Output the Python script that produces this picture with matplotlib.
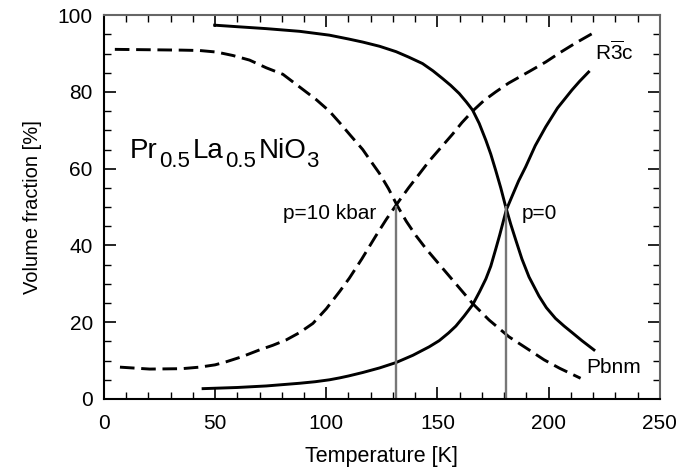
import matplotlib
matplotlib.use("Agg")
import matplotlib.pyplot as plt
from matplotlib.ticker import MultipleLocator

plt.rcParams['font.family'] = ['Liberation Sans', 'DejaVu Sans']
plt.rcParams['mathtext.fontset'] = 'custom'
plt.rcParams['mathtext.rm'] = 'Liberation Sans'
plt.rcParams['mathtext.it'] = 'Liberation Sans:italic'

# p = 0, Pbnm (solid, decreasing)
t_pbnm_0 = [49.8, 60, 73, 88, 101.4, 110, 116.4, 124, 131.4, 137, 143.3, 148, 152.3, 156,
            159.8, 163, 165.8, 168.8, 171.8, 174, 176.2, 178.5, 180.7, 183, 185.2, 188,
            191.2, 195.7, 199, 203.1, 207, 210.6, 215, 220.4]
v_pbnm_0 = [97.4, 97.0, 96.5, 95.8, 94.8, 93.8, 93.0, 91.9, 90.5, 89.1, 87.4, 85.5, 83.5, 81.7,
            79.6, 77.4, 75.3, 71.8, 67.4, 63.8, 59.6, 55.0, 50.1, 45.5, 41.5, 36.5,
            31.8, 26.8, 23.8, 21.0, 19.0, 17.3, 15.2, 12.8]

# p = 0, R-3c (solid, increasing)
t_r3c_0 = [44.6, 60, 73, 88, 95, 101.4, 106, 110, 116.4, 124, 131.4, 139, 146.3, 150.8, 155,
           158.3, 162, 165.8, 169, 171.8, 174, 176.2, 178, 179.5, 181, 183.7, 186.5, 189.7,
           194, 198.7, 204, 210.5, 214, 218]
v_r3c_0 = [2.7, 3.0, 3.4, 4.1, 4.5, 5.0, 5.5, 6.0, 6.9, 8.1, 9.5, 11.4, 13.6, 15.2, 17.2,
           19.0, 21.6, 24.5, 28.0, 31.3, 34.6, 39.0, 42.7, 46.0, 49.3, 53.0, 56.8, 60.5,
           66.0, 70.9, 75.8, 80.5, 82.8, 85.2]

# p = 10 kbar, Pbnm (dashed, decreasing)
t_pbnm_10 = [4.9, 20, 35, 43, 50.6, 58, 65.5, 73, 80.5, 88, 95.5, 101.4, 106, 111, 116.4,
             120, 123.9, 128, 132, 136, 140.3, 144.8, 150.8, 158.3, 165.8, 173.2, 182.2,
             191.2, 198, 205, 214.4]
v_pbnm_10 = [91.1, 91.0, 90.9, 90.8, 90.4, 89.5, 88.3, 86.3, 84.6, 81.3, 78.0, 75.0, 72.0,
             68.6, 65.0, 62.0, 58.8, 54.8, 50.3, 46.3, 42.6, 39.2, 35.1, 30.0, 24.9, 20.6,
             16.2, 12.8, 10.2, 8.0, 5.4]

# p = 10 kbar, R-3c (dashed, increasing)
t_r3c_10 = [7.2, 20.6, 35, 43, 50, 55, 62, 70, 76, 82, 88, 94, 100, 106, 110.4, 116, 122.3,
            127, 132, 137, 141, 146.3, 150.8, 156.8, 161, 165.8, 171, 176.2, 182, 191.2,
            198.7, 205, 212, 219.6]
v_r3c_10 = [8.3, 7.8, 7.9, 8.3, 8.9, 9.7, 11.0, 12.8, 14.0, 15.4, 17.3, 19.7, 23.5, 28.0,
            31.5, 36.5, 42.5, 46.8, 51.0, 55.0, 58.0, 62.0, 65.0, 69.0, 72.0, 75.0, 77.8,
            80.0, 82.3, 85.3, 87.8, 90.2, 92.7, 95.2]

# transition temperatures
t_trans = [131.5, 180.8]

fig = plt.figure(figsize=(6.93, 4.75), dpi=100)
ax = fig.add_axes([0.150, 0.160, 0.802, 0.808])

ax.plot(t_pbnm_0, v_pbnm_0, color='black', lw=2.1)
ax.plot(t_r3c_0, v_r3c_0, color='black', lw=2.1)
ax.plot(t_pbnm_10, v_pbnm_10, color='black', lw=2.1, dashes=(5, 2.3))
ax.plot(t_r3c_10, v_r3c_10, color='black', lw=2.1, dashes=(5, 2.3))
for t in t_trans:
    ax.plot([t, t], [0, 50], color='#777777', lw=1.7)

ax.set_xlim(0, 250)
ax.set_ylim(0, 100)
ax.xaxis.set_major_locator(MultipleLocator(50))
ax.xaxis.set_minor_locator(MultipleLocator(10))
ax.yaxis.set_major_locator(MultipleLocator(20))
ax.yaxis.set_minor_locator(MultipleLocator(5))
ax.tick_params(which='both', direction='in', top=True, right=True, labelsize=15)
ax.tick_params(axis='x', pad=11)
ax.tick_params(axis='y', pad=8)
ax.tick_params(which='major', length=8.5, width=1.2)
ax.tick_params(which='minor', length=5, width=1)
for s in ['top', 'right']:
    ax.spines[s].set_color('#666666')
for s in ax.spines.values():
    s.set_linewidth(1.5)

ax.set_xlabel('Temperature [K]', fontsize=15.5, labelpad=9)
ax.set_ylabel('Volume fraction [%]', fontsize=14.5, labelpad=11)

# formula label built from pieces so subscripts stay large
main = ax.text(11.7, 62.8, 'Pr', fontsize=20, va='baseline')
pieces = [('0.5', 16, 1, -5.7), ('La', 20, 2, 5.7), ('0.5', 16, 1, -5.7),
          ('NiO', 20, 2, 5.7), ('3', 16, 0, -5.7)]
prev = main
for s, fs, dx, dy in pieces:
    prev = ax.annotate(s, xy=(1, 0), xycoords=prev, xytext=(dx, dy),
                       textcoords='offset points', fontsize=fs, va='bottom', ha='left')

ax.text(122.5, 48.4, 'p=10 kbar', fontsize=15, ha='right', va='center')
ax.text(188.1, 48.4, 'p=0', fontsize=15, ha='left', va='center')
ax.text(220.8, 90.4, r'R$\mathrm{\overline{3}}$c', fontsize=15, ha='left', va='center')
ax.text(216.8, 8.1, 'Pbnm', fontsize=15, ha='left', va='center')

fig.savefig('out.png', dpi=100)
